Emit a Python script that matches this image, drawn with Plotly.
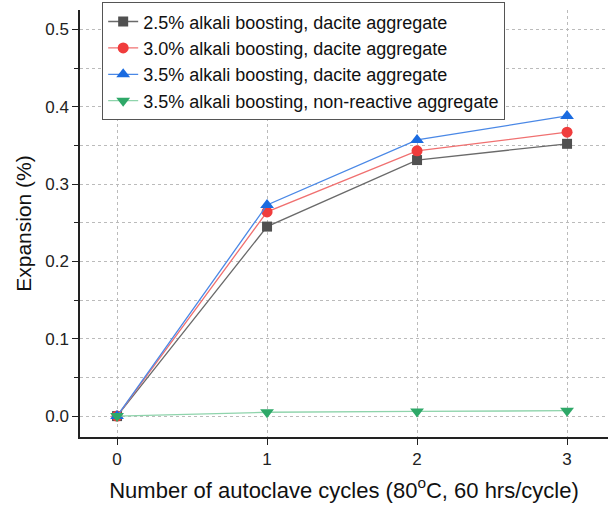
import plotly.graph_objects as go

cycles = [0, 1, 2, 3]
s25_dacite = [0.0, 0.245, 0.331, 0.352]
s30_dacite = [0.0, 0.264, 0.343, 0.367]
s35_dacite = [0.0, 0.273, 0.357, 0.388]
s35_nonreactive = [0.0, 0.005, 0.006, 0.007]

names = [
    "2.5% alkali boosting, dacite aggregate",
    "3.0% alkali boosting, dacite aggregate",
    "3.5% alkali boosting, dacite aggregate",
    "3.5% alkali boosting, non-reactive aggregate",
]
series = [s25_dacite, s30_dacite, s35_dacite, s35_nonreactive]
marker_colors = ["#505050", "#f03c3c", "#1a6be0", "#2ea868"]
line_colors = ["#6a6a6a", "#f07070", "#4a88e6", "#8fd4ac"]
symbols = ["square", "circle", "triangle-up", "triangle-down"]
sizes = [10, 11, 12, 12]

fig = go.Figure()
for nm, ys, mc, lc, sym, sz in zip(names, series, marker_colors, line_colors, symbols, sizes):
    fig.add_trace(go.Scatter(
        x=cycles, y=ys, name=nm, mode="lines+markers",
        line=dict(color=lc, width=1.3),
        marker=dict(color=mc, symbol=sym, size=sz, line=dict(width=0)),
    ))

font = "Arial, Liberation Sans, sans-serif"
fig.update_layout(
    width=608, height=509,
    margin=dict(l=80, r=0, t=10, b=72, autoexpand=False),
    paper_bgcolor="white", plot_bgcolor="white",
    font=dict(family=font, size=17, color="#222"),
    showlegend=True,
    legend=dict(
        x=0.042, y=1.018, xanchor="left", yanchor="top",
        bordercolor="#555", borderwidth=1, bgcolor="white",
        font=dict(size=18, color="#111"),
        tracegroupgap=0, itemwidth=30,
    ),
    xaxis=dict(
        range=[-0.247, 3.273], tickvals=cycles, ticktext=[str(c) for c in cycles],
        automargin=False,
        showline=True, linecolor="#222", linewidth=1.5,
        ticks="outside", ticklen=6, tickwidth=1.3, tickcolor="#222",
        showgrid=True, gridcolor="#bbbbbb", griddash="dot", gridwidth=1,
        zeroline=False,
        title=dict(text="Number of autoclave cycles (80<sup>o</sup>C, 60 hrs/cycle)",
                   font=dict(size=22, color="#111"), standoff=14),
    ),
    yaxis=dict(
        range=[-0.027, 0.525], tickvals=[0.0, 0.1, 0.2, 0.3, 0.4, 0.5],
        ticktext=["0.0", "0.1", "0.2", "0.3", "0.4", "0.5"],
        automargin=False,
        showline=True, linecolor="#222", linewidth=1.5,
        ticks="outside", ticklen=6, tickwidth=1.3, tickcolor="#222",
        showgrid=True, gridcolor="#bbbbbb", griddash="dot", gridwidth=1,
        zeroline=False,
        minor=dict(dtick=0.05, tick0=0, ticks="outside", ticklen=4, tickcolor="#222",
                   showgrid=True, gridcolor="#bbbbbb", griddash="dot", gridwidth=1),
        title=dict(text="Expansion (%)", font=dict(size=21, color="#111"), standoff=8),
    ),
)

fig.write_html("out.html", config={"displayModeBar": False},
               post_script="document.body.style.margin='0';")
